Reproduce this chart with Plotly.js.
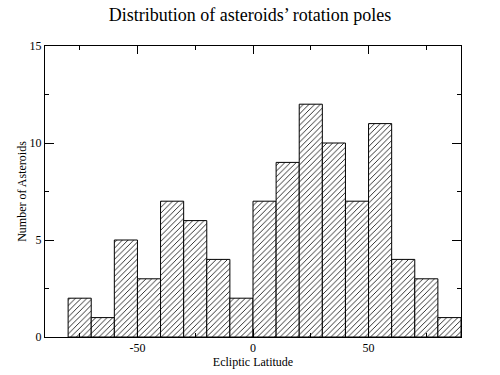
<!DOCTYPE html>
<html>
<head>
<meta charset="utf-8">
<script src="https://cdn.plot.ly/plotly-3.0.1.min.js"></script>
<style>html,body{margin:0;padding:0;background:#fff;}#chart{width:500px;height:375px;}</style>
</head>
<body>
<div id="chart"></div>
<script>
// Histogram bins (ecliptic latitude, degrees): left edges, bin width, counts
var binLeftEdges = [-80, -70, -60, -50, -40, -30, -20, -10, 0, 10, 20, 30, 40, 50, 60, 70, 80];
var binWidth = 10;
var counts = [2, 1, 5, 3, 7, 6, 4, 2, 7, 9, 12, 10, 7, 11, 4, 3, 1];
var xTickVals = [-50, 0, 50];
var xTickText = ["-50", "0", "50"];
var yTickVals = [0, 5, 10, 15];

var centers = binLeftEdges.map(function (e) { return e + binWidth / 2; });

var serif = "Liberation Serif, Times New Roman, serif";

var trace = {
  type: "bar",
  x: centers,
  y: counts,
  width: binWidth,
  marker: {
    color: "white",
    line: { color: "black", width: 1 },
    pattern: { shape: "/", fgcolor: "black", bgcolor: "white", size: 4, solidity: 0.2 }
  },
  hoverinfo: "none"
};

var layout = {
  width: 500,
  height: 375,
  margin: { l: 45, r: 39, t: 46, b: 38 },
  paper_bgcolor: "white",
  plot_bgcolor: "white",
  showlegend: false,
  bargap: 0,
  title: {
    text: "Distribution of asteroids\u2019 rotation poles",
    font: { family: serif, size: 18, color: "black" },
    x: 0.5, xanchor: "center", y: 0.962, yanchor: "middle"
  },
  xaxis: {
    range: [-90, 90],
    tickvals: xTickVals,
    ticktext: xTickText,
    ticks: "inside",
    ticklen: 8,
    tickwidth: 1,
    tickcolor: "black",
    showline: true,
    linecolor: "black",
    linewidth: 1,
    mirror: "allticks",
    showgrid: false,
    zeroline: false,
    minor: { dtick: 25, tick0: 0, ticks: "inside", ticklen: 4, tickcolor: "black", showgrid: false },
    tickfont: { family: serif, size: 12, color: "black" },
    title: { text: "Ecliptic Latitude", font: { family: serif, size: 12, color: "black" }, standoff: 2 }
  },
  yaxis: {
    range: [0, 15],
    tickvals: yTickVals,
    ticks: "inside",
    ticklen: 9,
    tickwidth: 1,
    tickcolor: "black",
    showline: true,
    linecolor: "black",
    linewidth: 1,
    mirror: "allticks",
    showgrid: false,
    zeroline: false,
    minor: { dtick: 2.5, tick0: 0, ticks: "inside", ticklen: 4, tickcolor: "black", showgrid: false },
    tickfont: { family: serif, size: 12, color: "black" },
    title: { text: "Number of Asteroids", font: { family: serif, size: 12, color: "black" }, standoff: 0 }
  }
};

Plotly.newPlot("chart", [trace], layout, { staticPlot: true, displayModeBar: false });
</script>
</body>
</html>
